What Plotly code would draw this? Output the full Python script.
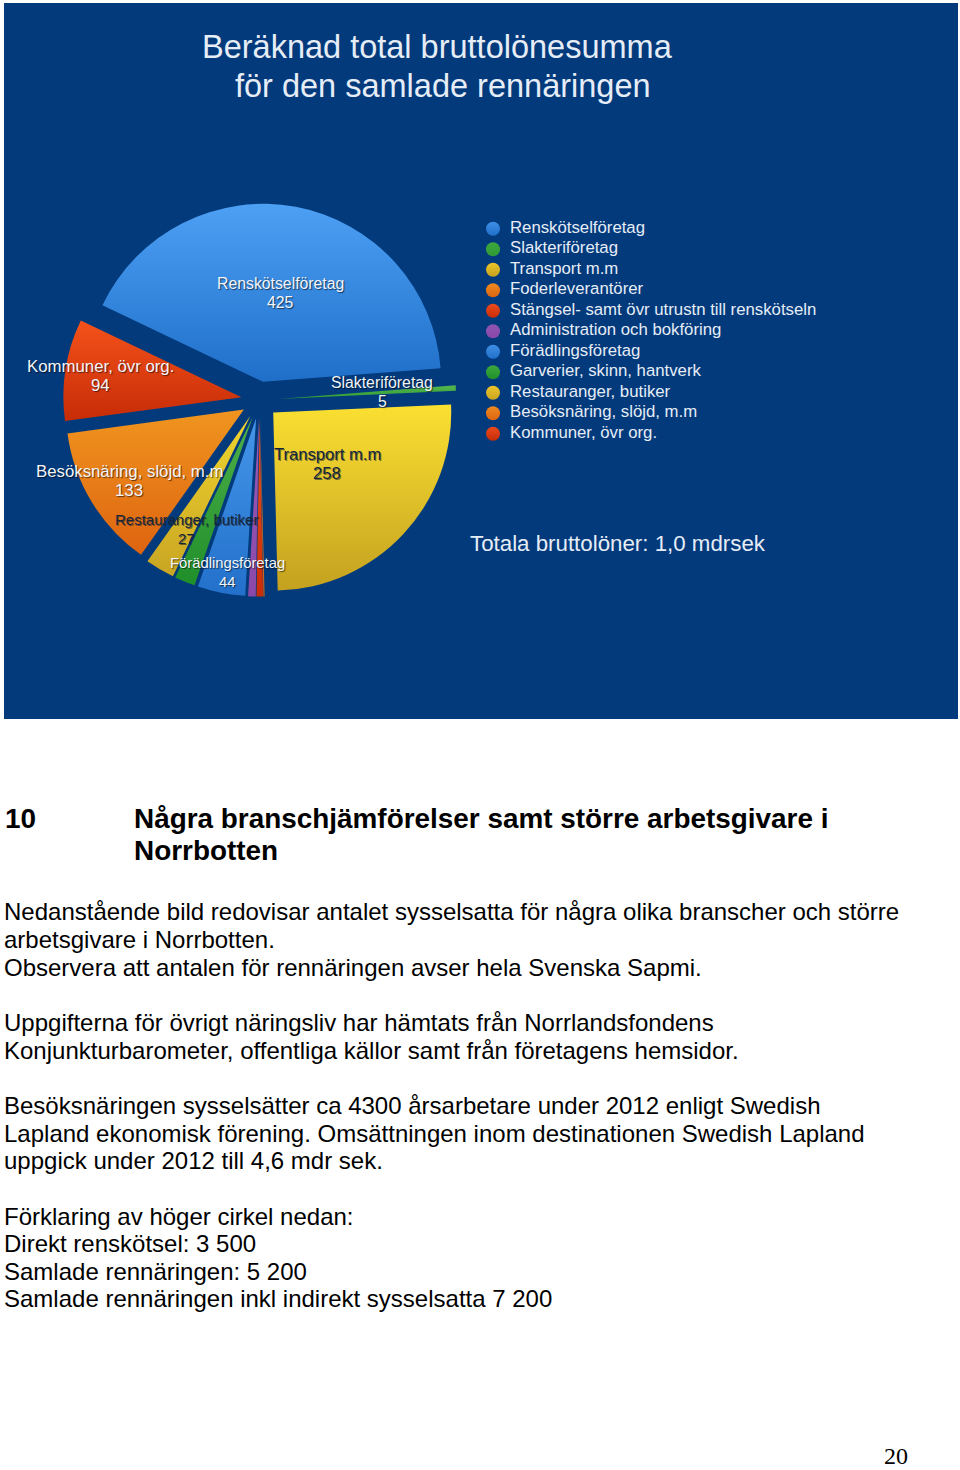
import json
import plotly.graph_objects as go

W, H = 960, 1470
NAVY = "#023a7c"
LIGHT = "#e6edf6"

categories = ["Renskötselföretag", "Slakteriföretag", "Transport m.m", "Foderleverantörer",
              "Stängsel- samt övr utrustn till renskötseln", "Administration och bokföring",
              "Förädlingsföretag", "Garverier, skinn, hantverk", "Restauranger, butiker",
              "Besöksnäring, slöjd, m.m", "Kommuner, övr org."]
values = [425, 5, 258, 1, 6, 7, 44, 19, 27, 133, 94]
top_colors = ["#4da0f4", "#57b84f", "#fbe032", "#f2931f", "#f4521b", "#9b59b6",
              "#4596ea", "#4fb04a", "#f0d52f", "#f0951f", "#f5521a"]
bottom_colors = ["#1f6fc9", "#2f9a35", "#c4a11f", "#dc6510", "#c92c08", "#8a48a8",
                 "#2270ca", "#1f8f2a", "#c9a522", "#de6410", "#c62c07"]
legend_colors = ["#3f8fe6", "#3fa83f", "#eec52a", "#ee8a20", "#ea4a1c", "#8e55b0",
                 "#3f8fe6", "#3fa83f", "#eec52a", "#ee8a20", "#ea4a1c"]

title_lines = ["Beräknad total bruttolönesumma", "för den samlade rennäringen"]
total_note = "Totala bruttolöner: 1,0 mdrsek"
heading_number = "10"
heading_lines = ["Några branschjämförelser samt större arbetsgivare i", "Norrbotten"]
body_lines = [
    ("Nedanstående bild redovisar antalet sysselsatta för några olika branscher och större", 911.5),
    ("arbetsgivare i Norrbotten.", 939.5),
    ("Observera att antalen för rennäringen avser hela Svenska Sapmi.", 967),
    ("Uppgifterna för övrigt näringsliv har hämtats från Norrlandsfondens", 1022),
    ("Konjunkturbarometer, offentliga källor samt från företagens hemsidor.", 1050),
    ("Besöksnäringen sysselsätter ca 4300 årsarbetare under 2012 enligt Swedish", 1105),
    ("Lapland ekonomisk förening. Omsättningen inom destinationen Swedish Lapland", 1133),
    ("uppgick under 2012 till 4,6 mdr sek.", 1160),
    ("Förklaring av höger cirkel nedan:", 1216),
    ("Direkt renskötsel: 3 500", 1243),
    ("Samlade rennäringen: 5 200", 1271),
    ("Samlade rennäringen inkl indirekt sysselsatta 7 200", 1298),
]
page_number = "20"

# label index, centre position in px, font size, dark flag
pie_labels = [
    (0, 280, 293, 15.8, False), (1, 382, 392, 15.8, False), (2, 327, 464, 16.6, True),
    (8, 186, 529, 15.0, True), (6, 227, 572, 14.8, False), (9, 129, 481, 16.8, False),
    (10, 100, 376, 16.8, False),
]

def px(x): return x / W
def py(y): return 1 - y / H

fig = go.Figure()
cx, cy, half = 259.7, 400, 196.5
fig.add_trace(go.Pie(
    labels=categories, values=values, sort=False, direction="clockwise", rotation=295.5,
    pull=0.104, textinfo="none", hoverinfo="label+value", showlegend=False,
    marker=dict(colors=legend_colors, line=dict(width=0)),
    domain=dict(x=[px(cx - half), px(cx + half)], y=[py(cy + half), py(cy - half)]),
))

# legend built as a dot-and-text trace on a hidden categorical axis
fig.add_trace(go.Scatter(
    x=[0] * len(categories), y=categories, mode="markers", showlegend=False, hoverinfo="y",
    cliponaxis=False,
    marker=dict(size=14, color=legend_colors, line=dict(width=0),
                gradient=dict(type="vertical", color=bottom_colors)),
))
fig.add_trace(go.Scatter(
    x=[0.0364] * len(categories), y=categories, text=categories, mode="text",
    textposition="middle right", showlegend=False, hoverinfo="skip", cliponaxis=False,
    textfont=dict(family="Liberation Sans", size=16.75, color=LIGHT),
))

ann = []
def text(t, x, y, size, color="#000000", anchor="left", family="Liberation Sans", shadow=None, bold=False):
    f = dict(family=family, size=size, color=color)
    if shadow:
        f["shadow"] = shadow
    if bold:
        f["weight"] = "bold"
    ann.append(dict(text=t, x=px(x), y=py(y), xref="paper", yref="paper", showarrow=False,
                    xanchor=anchor, yanchor="middle", font=f, borderpad=0, borderwidth=0))

text(title_lines[0], 437.5, 47, 32.5, LIGHT, "center")
text(title_lines[1], 442.5, 86, 32.5, LIGHT, "center")
text(total_note, 470, 543, 22.3, LIGHT)

for idx, x, y, size, dark in pie_labels:
    col = "#15263c" if dark else "#f2f5fa"
    sh = "1px 1px 0 rgba(20,30,40,.55)" if dark else "1px 1px 1px rgba(0,0,0,.6)"
    text(categories[idx], x, y - 9.5, size, col, "center", shadow=sh)
    text(str(values[idx]), x, y + 9.5, size, col, "center", shadow=sh)

text(heading_number, 5, 818, 27.9, bold=True)
text(heading_lines[0], 134, 818, 27.9, bold=True)
text(heading_lines[1], 134, 850, 27.9, bold=True)
for line, y in body_lines:
    text(line, 4, y, 24)
text(page_number, 884, 1456, 24, family="Liberation Serif")

fig.update_layout(
    width=W, height=H, autosize=False, margin=dict(l=0, r=0, t=0, b=0),
    paper_bgcolor="#ffffff", plot_bgcolor="rgba(0,0,0,0)", showlegend=False,
    annotations=ann,
    shapes=[dict(type="rect", xref="paper", yref="paper", layer="below",
                 x0=px(4), x1=px(958), y0=py(719), y1=py(3),
                 fillcolor=NAVY, line=dict(width=0))],
    xaxis=dict(domain=[px(493), px(960)], range=[0, 1], visible=False, fixedrange=True),
    yaxis=dict(domain=[py(444), py(218.5)], type="category", categoryorder="array",
               categoryarray=categories[::-1], range=[-0.5, 10.5], visible=False, fixedrange=True),
)

post = """
document.body.style.margin = '0';
var tops = %s, bots = %s;
var gd = document.querySelector('.plotly-graph-div');
function shade() {
  var svg = gd.querySelector('svg.main-svg');
  var ns = 'http://www.w3.org/2000/svg';
  var defs = svg.querySelector('defs') || svg.insertBefore(document.createElementNS(ns, 'defs'), svg.firstChild);
  gd.querySelectorAll('.slice path.surface').forEach(function (p, i) {
    var g = document.createElementNS(ns, 'linearGradient');
    g.setAttribute('id', 'sliceg' + i);
    g.setAttribute('x1', '0'); g.setAttribute('x2', '0'); g.setAttribute('y1', '0'); g.setAttribute('y2', '1');
    [[0, tops[i]], [1, bots[i]]].forEach(function (s) {
      var st = document.createElementNS(ns, 'stop');
      st.setAttribute('offset', s[0]); st.setAttribute('stop-color', s[1]);
      g.appendChild(st);
    });
    defs.appendChild(g);
    p.style.fill = 'url(#sliceg' + i + ')';
  });
}
shade();
""" % (json.dumps(top_colors), json.dumps(bottom_colors))

fig.write_html("out.html", post_script=post, config=dict(displayModeBar=False, responsive=False))
